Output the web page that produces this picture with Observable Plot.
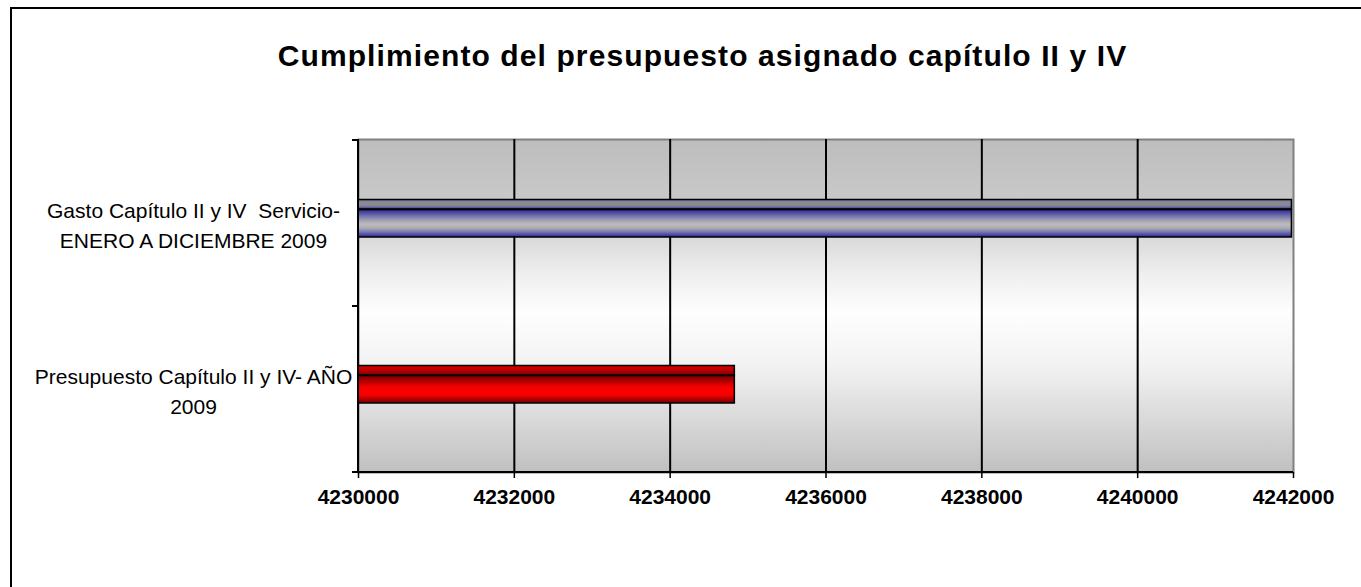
<!DOCTYPE html>
<html>
<head>
<meta charset="utf-8">
<script src="https://cdn.jsdelivr.net/npm/d3@7"></script>
<script src="https://cdn.jsdelivr.net/npm/@observablehq/plot@0.6"></script>
<style>
  body { margin: 0; background: #fff; overflow: hidden; font-family: "Liberation Sans", Arial, sans-serif; }
  #wrap { position: relative; width: 1361px; height: 587px; overflow: hidden; background: #fff; }
  #border { position: absolute; left: 10px; top: 7px; width: 1400px; height: 700px; border: 2px solid #000; box-sizing: border-box; }
  #title { position: absolute; left: 22px; top: 41px; width: 1361px; text-align: center; font-weight: bold;
           font-size: 30px; line-height: 30px; letter-spacing: 1.1px; color: #000; white-space: nowrap; }
  #chart { position: absolute; left: 0; top: 0; }
</style>
</head>
<body>
<div id="wrap">
  <div id="border"></div>
  <div id="chart"></div>
  <div id="title">Cumplimiento del presupuesto asignado capítulo II y IV</div>
</div>
<script>
// ---- data ----
const categories = [
  "Gasto Capítulo II y IV\u00a0 Servicio-\nENERO A DICIEMBRE 2009",
  "Presupuesto Capítulo II y IV- AÑO\n2009"
];
const values = [4241980, 4234830];
const xTicks = [4230000, 4232000, 4234000, 4236000, 4238000, 4240000, 4242000];
const xDomain = [4230000, 4242000];
const seriesGradients = [["blueTop", "blueFront"], ["redTop", "redFront"]];

const rows = categories.map((c, i) => ({cat: c, value: values[i]}));

// ---- gradient definitions ----
function defs() {
  const svgDefs = d3.create("svg:defs");
  const grads = {
    bgGrad: [[0, "#bdbdbd"], [0.22, "#cbcbcb"], [0.4, "#eeeeee"], [0.52, "#fefefe"], [0.68, "#f2f2f2"], [1, "#c0c0c0"]],
    blueTop: [[0, "#6a6a9e"], [0.3, "#8c8c96"], [0.65, "#868690"], [0.85, "#5a5aa0"], [1, "#343490"]],
    blueFront: [[0, "#2a2a8a"], [0.12, "#4e4ea4"], [0.28, "#8080b0"], [0.42, "#a8a8b4"], [0.55, "#bcbcbc"], [0.68, "#aaaab6"], [0.82, "#7676b0"], [0.93, "#4444a2"], [1, "#2a2a8c"]],
    redTop: [[0, "#d80000"], [0.5, "#b80000"], [1, "#840000"]],
    redFront: [[0, "#780000"], [0.2, "#b00000"], [0.4, "#f00000"], [0.55, "#ff0000"], [0.72, "#f00000"], [0.88, "#a80000"], [1, "#680000"]]
  };
  for (const [id, stops] of Object.entries(grads)) {
    const lg = svgDefs.append("linearGradient").attr("id", id)
      .attr("x1", 0).attr("y1", 0).attr("x2", 0).attr("y2", 1);
    for (const [o, c] of stops) lg.append("stop").attr("offset", o).attr("stop-color", c);
  }
  return svgDefs.node();
}

// ---- axis lines and category ticks ----
function decorations(index, scales, values, dims) {
  const g = d3.create("svg:g").attr("stroke", "#000");
  const x0 = dims.marginLeft;
  const yTop = dims.marginTop;
  const yBot = dims.height - dims.marginBottom;
  g.append("line").attr("x1", x0).attr("x2", x0).attr("y1", yTop).attr("y2", yBot).attr("stroke-width", 2);
  g.append("line").attr("x1", x0 - 6).attr("x2", dims.width - dims.marginRight).attr("y1", yBot).attr("y2", yBot).attr("stroke-width", 2);
  const edges = categories.map(c => scales.y(c)).concat([yBot]);
  for (const e of edges) {
    g.append("line").attr("x1", x0 - 6).attr("x2", x0).attr("y1", e).attr("y2", e).attr("stroke-width", 2);
  }
  return g.node();
}

const barMarks = [];
rows.forEach((r, i) => {
  const [topId, frontId] = seriesGradients[i];
  barMarks.push(Plot.barX([r], {
    x1: () => xDomain[0], x2: "value", y: "cat",
    fill: `url(#${topId})`, stroke: "#000", strokeWidth: 1.5,
    insetTop: 59.5, insetBottom: 97
  }));
  barMarks.push(Plot.barX([r], {
    x1: () => xDomain[0], x2: "value", y: "cat",
    fill: `url(#${frontId})`, stroke: "#000", strokeWidth: 1.5,
    insetTop: 69.5, insetBottom: 69
  }));
});

const chart = Plot.plot({
  width: 1361,
  height: 587,
  marginLeft: 358,
  marginRight: 68,
  marginTop: 139,
  marginBottom: 115,
  x: {domain: xDomain, axis: null, label: null},
  y: {domain: categories, axis: null, padding: 0, label: null},
  style: {fontFamily: '"Liberation Sans", Arial, sans-serif', background: "transparent", color: "#000", overflow: "visible"},
  marks: [
    defs,
    Plot.frame({fill: "url(#bgGrad)", stroke: "#808080", strokeWidth: 2}),
    Plot.ruleX(xTicks.slice(1, -1), {stroke: "#000", strokeWidth: 2}),
    ...barMarks,
    decorations,
    Plot.axisX(xTicks, {
      anchor: "bottom", tickSize: 6, tickPadding: 11, strokeWidth: 1.5, label: null,
      tickFormat: d3.format("d"), fontSize: 21, fontWeight: "bold", fill: "#000"
    }),
    Plot.text(categories, {
      y: d => d, text: d => d, frameAnchor: "left", dx: -165,
      textAnchor: "middle", lineHeight: 1.43, fontSize: 21, fill: "#000"
    })
  ]
});
document.getElementById("chart").appendChild(chart);
</script>
</body>
</html>
